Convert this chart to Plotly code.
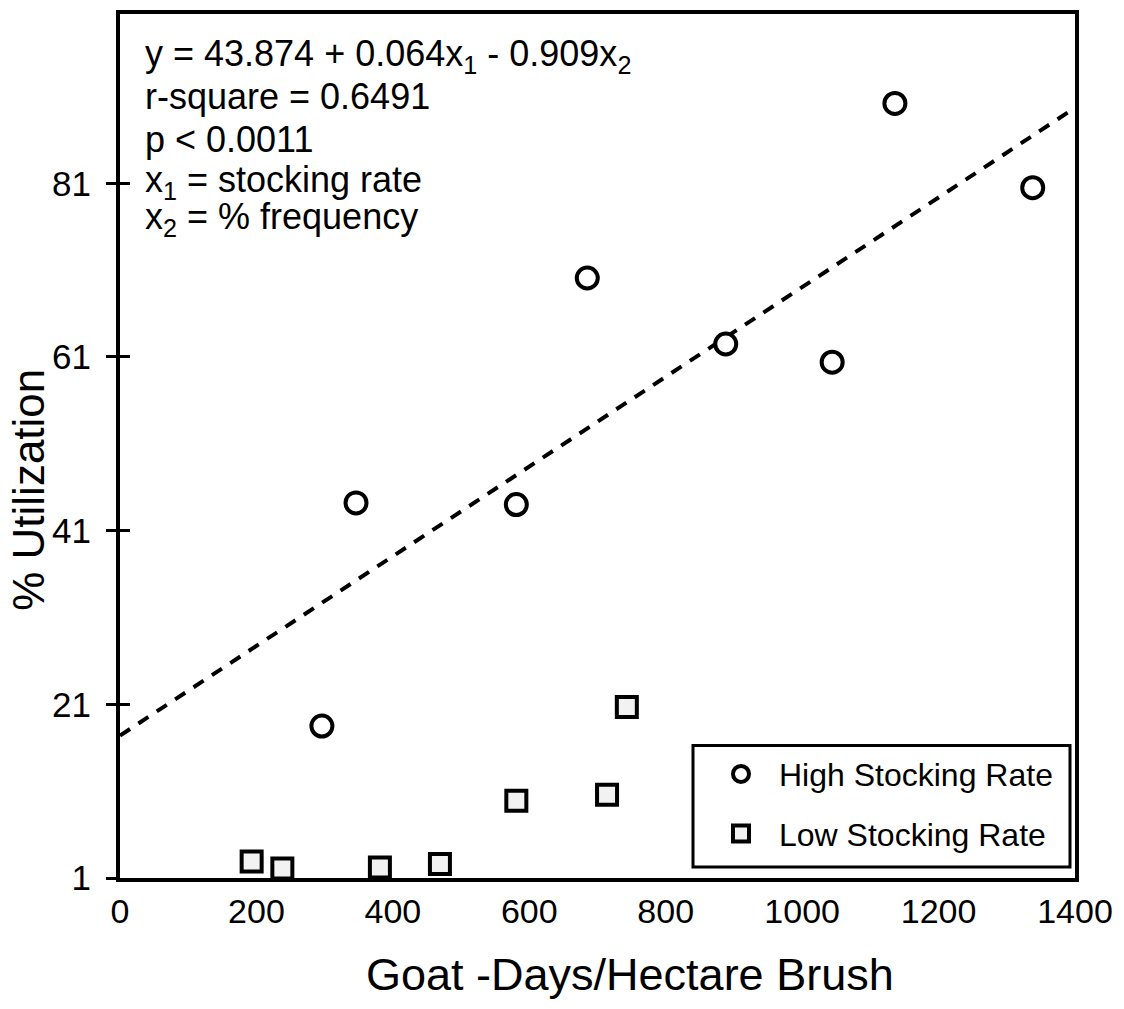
import plotly.graph_objects as go

# ---- data ----
high_x = [296, 346, 581, 685, 888, 1044, 1136, 1338]
high_y = [18.5, 44.2, 44.0, 70.1, 62.5, 60.4, 90.2, 80.5]

low_x = [193, 238, 381, 469, 581, 714, 743]
low_y = [2.9, 2.1, 2.2, 2.6, 9.9, 10.6, 20.7]

fit_x = [0, 1400]
fit_y = [17.4, 89.7]

y_ticks = [1, 21, 41, 61, 81]
x_ticks = [0, 200, 400, 600, 800, 1000, 1200, 1400]

eq_lines = [
    "y = 43.874 + 0.064x<sub>1</sub> - 0.909x<sub>2</sub>",
    "r-square = 0.6491",
    "p < 0.0011",
    "x<sub>1</sub> = stocking rate",
    "x<sub>2</sub> = % frequency",
]

FONT = "Liberation Sans, Arial, Helvetica, sans-serif"

# plot area pixel geometry (target screen pixels)
L, R, T, B = 120, 1075, 10, 878
W, H = 1124, 1009
OFF = 8  # page body margin
PW, PH = R - L, B - T


def py(pix):
    return (B - pix) / PH


def px(pix):
    return (pix - L) / PW


fig = go.Figure()

fig.add_trace(go.Scatter(
    x=fit_x, y=fit_y, mode="lines",
    line=dict(color="black", width=4, dash="12px,10px"),
    showlegend=False, hoverinfo="skip",
))

fig.add_trace(go.Scatter(
    x=high_x, y=high_y, mode="markers", name="High Stocking Rate",
    legendgroup="a",
    marker=dict(symbol="circle", size=21, color="white",
                line=dict(color="black", width=4)),
))

fig.add_trace(go.Scatter(
    x=low_x, y=low_y, mode="markers", name="Low Stocking Rate",
    legendgroup="b",
    marker=dict(symbol="square", size=20, color="#f2f2f2",
                line=dict(color="black", width=4)),
))

# carrier for the inside half of the y ticks
fig.add_trace(go.Scatter(
    x=[fit_x[0]], y=[y_ticks[0]], yaxis="y2", mode="markers",
    marker=dict(opacity=0), showlegend=False, hoverinfo="skip",
))

annotations = []
line_centers = [52, 93, 136, 179, 216]
for txt, c in zip(eq_lines, line_centers):
    annotations.append(dict(
        text=txt, xref="paper", yref="paper", x=px(143), y=py(c),
        xanchor="left", yanchor="middle", showarrow=False,
        font=dict(family=FONT, size=36, color="black"),
    ))

annotations.append(dict(
    text="Goat -Days/Hectare Brush", xref="paper", yref="paper",
    x=px(630), y=py(975), xanchor="center", yanchor="middle",
    showarrow=False, font=dict(family=FONT, size=45, color="black"),
))
annotations.append(dict(
    text="% Utilization", xref="paper", yref="paper",
    x=px(29), y=py(488), xanchor="center", yanchor="middle",
    textangle=-90, showarrow=False,
    font=dict(family=FONT, size=44, color="black"),
))

shapes = [dict(
    type="rect", xref="paper", yref="paper",
    x0=px(693), x1=px(1070), y0=py(867), y1=py(745),
    line=dict(color="black", width=3), fillcolor="white", layer="above",
)]

fig.update_layout(
    width=W, height=H,
    margin=dict(l=L - OFF, r=W - R + OFF, t=T - OFF, b=H - B + OFF),
    paper_bgcolor="white", plot_bgcolor="white",
    font=dict(family=FONT, color="black"),
    annotations=annotations,
    shapes=shapes,
    xaxis=dict(
        range=[0, 1400], tickvals=x_ticks, ticks="",
        showgrid=False, zeroline=False,
        showline=True, linecolor="black", linewidth=4, mirror=True,
        tickfont=dict(size=34, family=FONT), ticklabelstandoff=0,
    ),
    yaxis=dict(
        range=[1, 100.5], tickvals=y_ticks, ticks="outside", ticklen=10,
        tickwidth=3, tickcolor="black",
        showgrid=False, zeroline=False,
        showline=True, linecolor="black", linewidth=4, mirror=True,
        tickfont=dict(size=35, family=FONT), ticklabelstandoff=8,
    ),
    yaxis2=dict(
        range=[1, 100.5], tickvals=y_ticks, ticks="inside", ticklen=10,
        tickwidth=3, tickcolor="black", overlaying="y", side="left",
        anchor="x",
        showticklabels=False, showgrid=False, zeroline=False, showline=False,
    ),
    legend=dict(
        x=px(703), y=py(746), xanchor="left", yanchor="top",
        borderwidth=0, bgcolor="rgba(0,0,0,0)",
        font=dict(size=32, family=FONT, color="black"),
        traceorder="grouped", tracegroupgap=15,
        itemwidth=66,
    ),
)

fig.write_html("out.html")
